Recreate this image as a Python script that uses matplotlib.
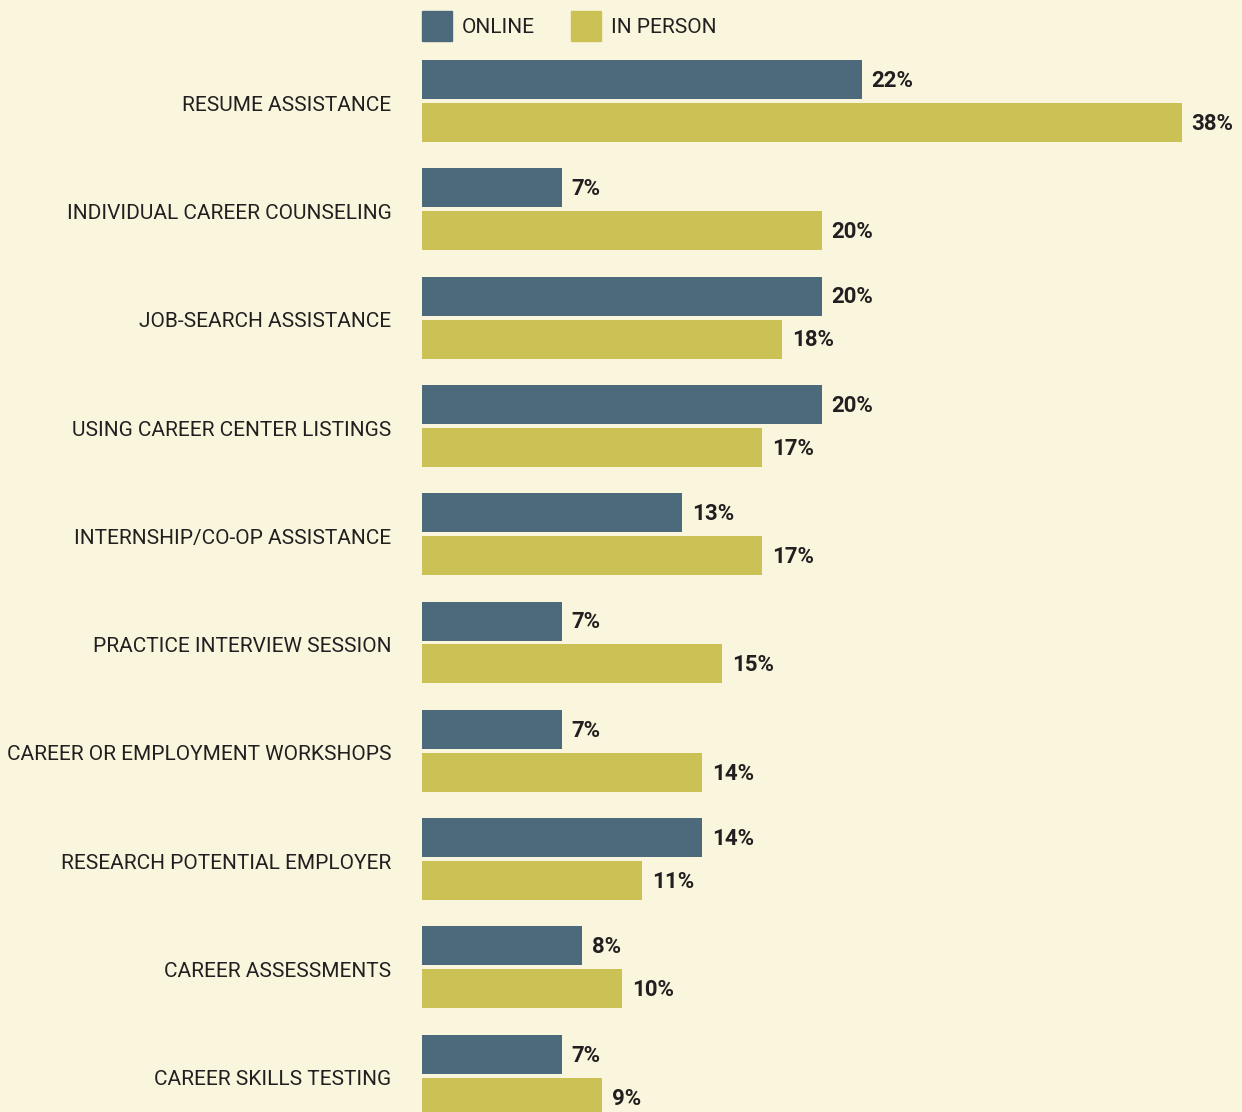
import matplotlib.pyplot as plt
from matplotlib.patches import Patch
import numpy as np

categories = [
    "RESUME ASSISTANCE",
    "INDIVIDUAL CAREER COUNSELING",
    "JOB-SEARCH ASSISTANCE",
    "USING CAREER CENTER LISTINGS",
    "INTERNSHIP/CO-OP ASSISTANCE",
    "PRACTICE INTERVIEW SESSION",
    "CAREER OR EMPLOYMENT WORKSHOPS",
    "RESEARCH POTENTIAL EMPLOYER",
    "CAREER ASSESSMENTS",
    "CAREER SKILLS TESTING",
]
online = [22, 7, 20, 20, 13, 7, 7, 14, 8, 7]
in_person = [38, 20, 18, 17, 17, 15, 14, 11, 10, 9]

bg = "#FAF6DE"
c_online = "#4D6A7C"
c_person = "#CCC154"
txt = "#231F20"

plt.rcParams['font.family'] = ['Roboto', 'DejaVu Sans']

W, H = 1242, 1112
fig = plt.figure(figsize=(W / 100, H / 100), dpi=100, facecolor=bg)
ax = fig.add_axes([422 / W, 0, 1 - 422 / W, 1])
ax.set_facecolor(bg)

step = 108.3
y = np.arange(len(categories))
off = 21.5 / step
h = 39 / step

b1 = ax.barh(y - off, online, height=h, color=c_online)
b2 = ax.barh(y + off, in_person, height=h, color=c_person)

ax.set_xlim(0, 41)
ax.set_ylim((H - 101) / step, -101 / step)
ax.axis('off')

for bars, vals in ((b1, online), (b2, in_person)):
    for bar, v in zip(bars, vals):
        ax.annotate(f"{v}%", (bar.get_width(), bar.get_y() + bar.get_height() / 2),
                    xytext=(7, -1), textcoords='offset points', va='center', ha='left',
                    fontsize=16, fontweight='bold', color=txt)

for i, cat in enumerate(categories):
    ax.annotate(cat, (0, i), xytext=(-22, -3), textcoords='offset points',
                ha='right', va='center', fontsize=15, color=txt, annotation_clip=False)

handles = [Patch(color=c_online, label="ONLINE"), Patch(color=c_person, label="IN PERSON")]
leg = fig.legend(handles=handles, loc='upper left', bbox_to_anchor=(422 / W, 1 - 14 / H),
                 ncol=2, frameon=False, fontsize=15, handlelength=1.45, handleheight=1.45,
                 handletextpad=0.45, columnspacing=1.75, borderpad=0, borderaxespad=0,
                 labelcolor=txt)
for p in leg.get_patches():
    h0 = p.get_height()
    p.set_y(p.get_y() - (21.6 - h0) / 2)
    p.set_height(21.6)

fig.savefig("out.png", dpi=100, facecolor=bg)
